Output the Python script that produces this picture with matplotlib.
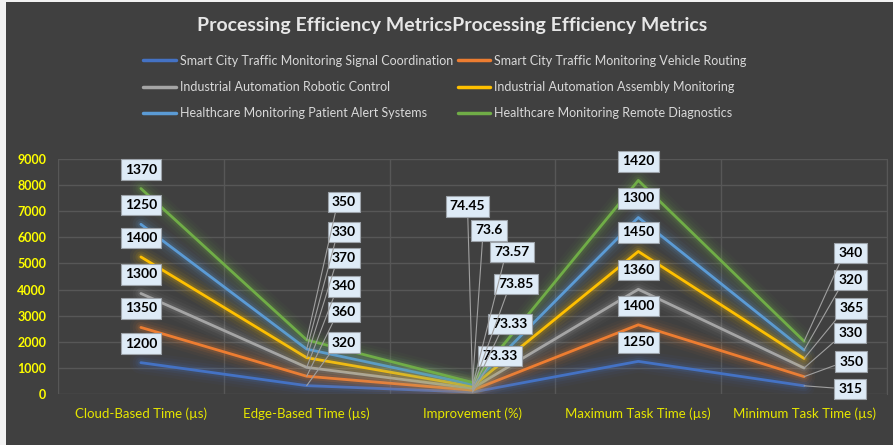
import matplotlib
matplotlib.use("Agg")
import matplotlib.pyplot as plt
import matplotlib.patheffects as pe
from matplotlib.patches import Rectangle
import numpy as np

categories = ["Cloud-Based Time (µs)", "Edge-Based Time (µs)", "Improvement (%)",
              "Maximum Task Time (µs)", "Minimum Task Time (µs)"]
series_names = [
    "Smart City Traffic Monitoring Signal Coordination",
    "Smart City Traffic Monitoring Vehicle Routing",
    "Industrial Automation Robotic Control",
    "Industrial Automation Assembly Monitoring",
    "Healthcare Monitoring Patient Alert Systems",
    "Healthcare Monitoring Remote Diagnostics",
]
signal_coordination = [1200, 320, 73.33, 1250, 315]
vehicle_routing = [1350, 360, 73.33, 1400, 350]
robotic_control = [1300, 340, 73.85, 1360, 330]
assembly_monitoring = [1400, 370, 73.57, 1450, 365]
patient_alert = [1250, 330, 73.6, 1300, 320]
remote_diagnostics = [1370, 350, 74.45, 1420, 340]
label_texts = [
    ["1200", "320", "73.33", "1250", "315"],
    ["1350", "360", "73.33", "1400", "350"],
    ["1300", "340", "73.85", "1360", "330"],
    ["1400", "370", "73.57", "1450", "365"],
    ["1250", "330", "73.6", "1300", "320"],
    ["1370", "350", "74.45", "1420", "340"],
]
yticks = [0, 1000, 2000, 3000, 4000, 5000, 6000, 7000, 8000, 9000]

colors = ["#4472C4", "#ED7D31", "#A5A5A5", "#FFC000", "#5B9BD5", "#70AD47"]

# label offsets in pixels (dx, dy) per category, per series (layout only)
offs = {
    0: [(0, 19)] * 6,
    1: [(25, 43), (25, 64), (25, 81), (25, 100), (25, 117), (25, 138)],
    2: [(10, 36), (20, 66), (26, 104), (22, 134), (3, 154), (-5, 176)],
    3: [(0, 19)] * 6,
    4: [(34, -3), (35, 15), (34, 35), (35, 50), (34, 70), (34, 88)],
}
leader = {0: False, 1: True, 2: True, 3: False, 4: True}

plt.rcParams['font.family'] = ['Lato', 'DejaVu Sans']

data = np.array([signal_coordination, vehicle_routing, robotic_control,
                 assembly_monitoring, patient_alert, remote_diagnostics])
stacked = np.cumsum(data, axis=0)

fig = plt.figure(figsize=(8.93, 4.45), dpi=100)
fig.patch.set_facecolor("#F2F2F2")
fig.patches.append(Rectangle((6 / 893, 0), 1, 1 - 2 / 445, transform=fig.transFigure,
                             facecolor="#404040", edgecolor="none", zorder=-10))

ax = fig.add_axes([58 / 893, 1 - 394 / 445, 829 / 893, 235 / 445])
ax.set_facecolor("#404040")
x = np.arange(len(categories))

lines = []
for i in range(len(series_names)):
    glow = [pe.Stroke(linewidth=w, foreground=colors[i], alpha=a)
            for w, a in [(16, 0.04), (12, 0.06), (8, 0.09), (5, 0.14)]]
    glow.append(pe.Normal())
    ln, = ax.plot(x, stacked[i], color=colors[i], lw=2.0, zorder=3 + i * 0.1,
                  solid_capstyle="round", path_effects=glow, label=series_names[i])
    lines.append(ln)

ax.set_xlim(-0.5, len(categories) - 0.5)
ax.set_ylim(0, 9000)
ax.set_yticks(yticks)
ax.set_yticklabels([str(t) for t in yticks], color="#FFFF00", fontweight="bold", fontsize=9)
ax.set_xticks(x)
ax.set_xticklabels(categories, color="#E6E600", fontsize=9.5)
ax.tick_params(axis="both", length=0)
ax.tick_params(axis="y", pad=8.5)
ax.tick_params(axis="x", pad=10)
ax.set_xticks(np.arange(-0.5, len(categories), 1), minor=True)
ax.tick_params(axis="x", which="minor", length=0)
ax.grid(True, axis="y", color="#575757", lw=1)
ax.grid(True, axis="x", which="minor", color="#575757", lw=1)
ax.grid(False, axis="x", which="major")
for s in ax.spines.values():
    s.set_visible(False)
ax.spines["right"].set_visible(True)
ax.spines["right"].set_color("#575757")

bbox = dict(boxstyle="square,pad=0.3", facecolor="#DEEBF7", edgecolor="#9DA3AA", lw=0.8)
for j in range(len(categories)):
    for i in range(len(series_names)):
        dx, dy = offs[j][i]
        txt = label_texts[i][j]
        if leader[j]:
            if j == 2 and i == 5:
                cs = "arc3,rad=0"
                ha = "center"
            else:
                cs = "arc,angleA=180,armA=6,angleB=0,armB=0,rad=0"
                ha = "left"
            ap = dict(arrowstyle="-", color="#A0A0A0", lw=0.8, shrinkA=0, shrinkB=0,
                      connectionstyle=cs)
            ax.annotate(txt, xy=(x[j], stacked[i, j]), xytext=(dx, dy),
                        textcoords="offset pixels", ha=ha, va="center",
                        fontsize=10, fontweight="bold", color="#000000",
                        bbox=bbox, arrowprops=ap, zorder=10)
        else:
            ax.annotate(txt, xy=(x[j], stacked[i, j]), xytext=(dx, dy),
                        textcoords="offset pixels", ha="center", va="center",
                        fontsize=10, fontweight="bold", color="#000000",
                        bbox=bbox, zorder=10)

fig.text(452 / 893, 1 - 25 / 445, "Processing Efficiency MetricsProcessing Efficiency Metrics",
         ha="center", va="center", fontsize=14, fontweight="bold", color="#E6E6E6")

order = [0, 2, 4, 1, 3, 5]
leg = fig.legend(handles=[lines[k] for k in order], labels=[series_names[k] for k in order],
                 ncol=2, loc="center",
                 bbox_to_anchor=(445 / 893, 1 - 87 / 445), frameon=False,
                 fontsize=9, labelcolor="#D9D9D9", handlelength=2.6,
                 handletextpad=0.3, columnspacing=0.4, labelspacing=1.15)
for h in leg.legend_handles:
    h.set_linewidth(2.5)
    h.set_path_effects([])

fig.savefig("out.png", dpi=100, facecolor=fig.get_facecolor())
